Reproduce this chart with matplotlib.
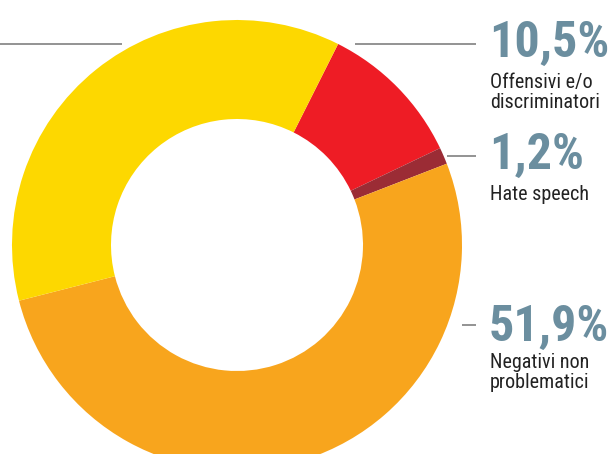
import matplotlib
matplotlib.use("Agg")
import matplotlib.pyplot as plt
from matplotlib import font_manager

# data
labels = ["Offensivi e/o\ndiscriminatori", "Hate speech", "Negativi non\nproblematici", ""]
values = [10.5, 1.2, 51.9, 36.4]
pct_text = ["10,5%", "1,2%", "51,9%", ""]
colors = ["#EE1C25", "#9B2C35", "#F8A51D", "#FDD800"]

W, H = 611, 454
fig = plt.figure(figsize=(W / 100, H / 100), dpi=100)
ax = fig.add_axes([0, 0, 1, 1])

cx, cy, r = 237, H - 245, 225
ax.pie(values, colors=colors, startangle=63.3, counterclock=False,
       center=(cx, cy), radius=r, frame=True,
       wedgeprops=dict(width=r * 0.44, linewidth=0))
ax.set_xlim(0, W)
ax.set_ylim(0, H)
ax.set_aspect("equal")
ax.axis("off")

names = {f.name for f in font_manager.fontManager.ttflist}
cond = [n for n in ["Liberation Sans Narrow", "Roboto Condensed", "Open Sans Condensed",
                    "DejaVu Sans Condensed"] if n in names] + ["DejaVu Sans"]
line_c = "#8a8a8a"

# leader lines (pixel rows from the top)
leaders = [(355, 476, 44), (447, 476, 156), (462, 476, 325), (0, 122, 44)]
for x0, x1, y in leaders:
    ax.plot([x0, x1], [H - y, H - y], color=line_c, lw=1.3, solid_capstyle="butt")

pct_y = [43, 155, 327]
lab_y = [73, 185, 353]
for i in range(3):
    ax.text(489, H - pct_y[i], pct_text[i], fontsize=36, fontweight="bold",
            fontstretch="condensed", color="#6B8E9F", family=cond,
            va="center", ha="left")
    ax.text(490, H - lab_y[i], labels[i], fontsize=14.5, color="#222222",
            fontstretch="condensed", family=cond, va="top", ha="left",
            linespacing=1.08)

fig.savefig("out.png", dpi=100)
